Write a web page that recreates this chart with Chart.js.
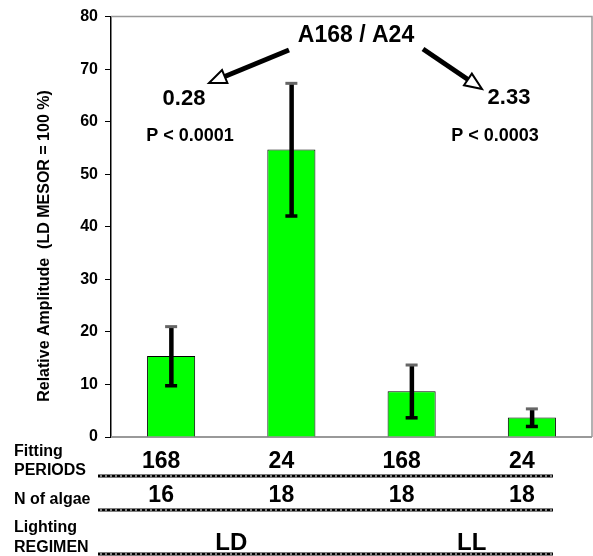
<!DOCTYPE html>
<html>
<head>
<meta charset="utf-8">
<script src="https://cdn.jsdelivr.net/npm/chart.js@4.4.1/dist/chart.umd.min.js"></script>
<style>
  html, body { margin: 0; padding: 0; background: #fff; }
  #wrap { width: 593px; height: 556px; position: relative; }
</style>
</head>
<body>
<div id="wrap"><canvas id="chart"></canvas></div>
<script>
// values
const periods = ['168', '24', '168', '24'];
const amplitude = [15.4, 54.7, 8.7, 3.7];
const amplitudeErr = [5.6, 12.6, 5.0, 1.65];
const algaeCount = ['16', '18', '18', '18'];
const regimens = ['LD', 'LL'];
const yTicks = [0, 10, 20, 30, 40, 50, 60, 70, 80];

const FONT = '"Liberation Sans", Arial, sans-serif';

function drawArrow(ctx, x1, y1, x2, y2) {
    let ang = Math.atan2(y2 - y1, x2 - x1);
    let len = 17, half = 7;
    let bx = x2 - Math.cos(ang) * len;
    let by = y2 - Math.sin(ang) * len;
    ctx.save();
    ctx.strokeStyle = '#000';
    ctx.lineWidth = 5;
    ctx.beginPath();
    ctx.moveTo(x1, y1);
    ctx.lineTo(bx, by);
    ctx.stroke();
    ctx.beginPath();
    ctx.moveTo(x2, y2);
    ctx.lineTo(bx + Math.sin(ang) * half, by - Math.cos(ang) * half);
    ctx.lineTo(bx - Math.sin(ang) * half, by + Math.cos(ang) * half);
    ctx.closePath();
    ctx.fillStyle = '#fff';
    ctx.fill();
    ctx.lineWidth = 2;
    ctx.stroke();
    ctx.restore();
}

// the table rules look like a row of tiny hollow squares
function dottedRule(ctx, x1, x2, y) {
    ctx.save();
    ctx.fillStyle = '#000';
    ctx.fillRect(x1, y - 1.5, x2 - x1, 3);
    ctx.fillStyle = '#fff';
    for (let x = x1 + 2; x < x2 - 1; x += 5) {
        ctx.fillRect(x, y - 0.5, 2, 1);
    }
    ctx.restore();
}

const framePlugin = {
    id: 'frame',
    beforeDatasetsDraw(chart) {
        let a = chart.chartArea;
        let ctx = chart.ctx;
        ctx.save();
        ctx.strokeStyle = '#999';
        ctx.lineWidth = 1.5;
        ctx.beginPath();
        ctx.moveTo(a.left, a.top);
        ctx.lineTo(a.right, a.top);
        ctx.lineTo(a.right, a.bottom);
        ctx.stroke();
        ctx.lineWidth = 2;
        ctx.beginPath();
        ctx.moveTo(a.left, a.bottom);
        ctx.lineTo(a.right, a.bottom);
        ctx.stroke();
        ctx.restore();
    }
};

const errorBarPlugin = {
    id: 'errorBars',
    afterDatasetsDraw(chart) {
        let ctx = chart.ctx;
        let y = chart.scales.y;
        let bars = chart.getDatasetMeta(0).data;
        ctx.save();
        for (let i = 0; i < bars.length; i++) {
            let x = bars[i].x;
            let top = y.getPixelForValue(amplitude[i] + amplitudeErr[i]);
            let bottom = y.getPixelForValue(amplitude[i] - amplitudeErr[i]);
            ctx.fillStyle = '#000';
            ctx.fillRect(x - 2, top, 4.5, bottom - top);
            ctx.fillStyle = '#666';
            ctx.fillRect(x - 6, top - 1.5, 12, 3);
            ctx.fillStyle = '#000';
            ctx.fillRect(x - 6, bottom - 1.5, 12, 3.5);
        }
        ctx.restore();
    }
};

const notesPlugin = {
    id: 'notes',
    afterDraw(chart) {
        let ctx = chart.ctx;
        let x = chart.scales.x;
        ctx.save();
        ctx.fillStyle = '#000';
        ctx.textBaseline = 'middle';
        ctx.textAlign = 'center';

        // ratio annotation
        ctx.font = 'bold 23px ' + FONT;
        ctx.fillText('A168 / A24', 356, 36);
        ctx.font = 'bold 22px ' + FONT;
        ctx.fillText('0.28', 184, 99);
        ctx.fillText('2.33', 509, 98);
        ctx.font = 'bold 18px ' + FONT;
        ctx.fillText('P < 0.0001', 190, 136);
        ctx.fillText('P < 0.0003', 495, 136);
        drawArrow(ctx, 289, 50, 209, 83);
        drawArrow(ctx, 423, 49, 482, 89);

        // y axis title
        ctx.save();
        ctx.translate(45, 246);
        ctx.rotate(-Math.PI / 2);
        ctx.font = 'bold 16px ' + FONT;
        ctx.fillText('Relative Amplitude  (LD MESOR = 100 %)', 0, 0);
        ctx.restore();

        // table under the plot
        ctx.textBaseline = 'alphabetic';
        ctx.textAlign = 'left';
        ctx.font = 'bold 16px ' + FONT;
        ctx.fillText('Fitting', 14, 456);
        ctx.fillText('PERIODS', 14, 475);
        ctx.fillText('N of algae', 14, 504);
        ctx.fillText('Lighting', 14, 532);
        ctx.fillText('REGIMEN', 14, 552);

        ctx.textAlign = 'center';
        ctx.font = 'bold 23px ' + FONT;
        for (let i = 0; i < periods.length; i++) {
            let cx = x.getPixelForValue(i) - 10;
            ctx.fillText(periods[i], cx, 468);
            ctx.fillText(algaeCount[i], cx, 502);
        }
        ctx.font = 'bold 24px ' + FONT;
        for (let j = 0; j < regimens.length; j++) {
            let cx = (x.getPixelForValue(j * 2) + x.getPixelForValue(j * 2 + 1)) / 2;
            ctx.fillText(regimens[j], cx, 550);
        }

        dottedRule(ctx, 98, 553, 476);
        dottedRule(ctx, 98, 553, 510);
        dottedRule(ctx, 98, 553, 554);
        ctx.restore();
    }
};

new Chart(document.getElementById('chart'), {
    type: 'bar',
    data: {
        labels: periods,
        datasets: [{
            data: amplitude,
            backgroundColor: '#00ff00',
            borderColor: '#000',
            borderWidth: 1,
            barPercentage: 0.4,
            categoryPercentage: 1
        }]
    },
    options: {
        responsive: true,
        maintainAspectRatio: false,
        animation: false,
        events: [],
        layout: {
            padding: { top: 16, right: 1, bottom: 119, left: 0 }
        },
        plugins: {
            legend: { display: false },
            tooltip: { enabled: false }
        },
        scales: {
            x: {
                display: false
            },
            y: {
                min: 0,
                max: 80,
                afterFit: function(scale) { scale.width = 111; },
                afterBuildTicks: function(scale) {
                    scale.ticks = yTicks.map(function(v) { return { value: v }; });
                },
                ticks: {
                    color: '#000',
                    padding: 7,
                    font: { family: FONT, size: 16, weight: 'bold' }
                },
                grid: {
                    drawOnChartArea: false,
                    drawTicks: true,
                    tickLength: 6,
                    color: '#000'
                },
                border: { color: '#000', width: 1.5 }
            }
        }
    },
    plugins: [framePlugin, errorBarPlugin, notesPlugin]
});
</script>
</body>
</html>
